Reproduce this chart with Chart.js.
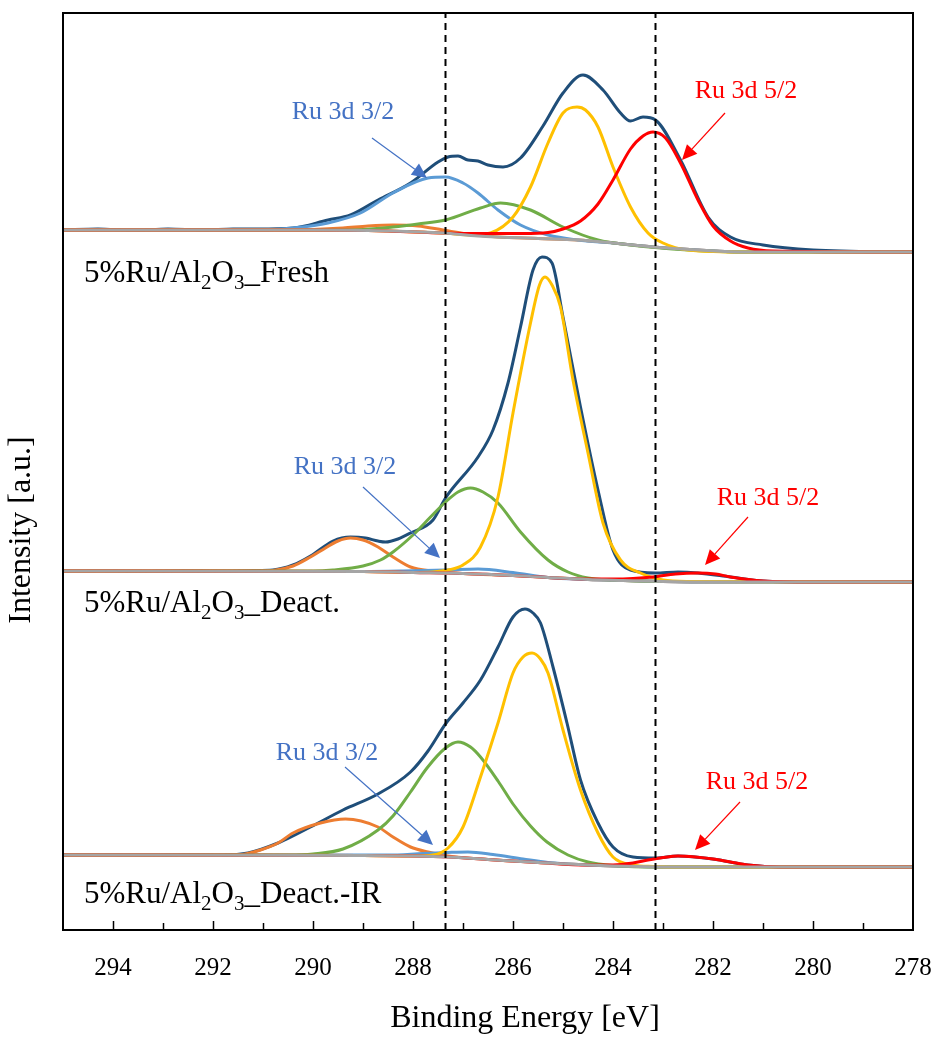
<!DOCTYPE html>
<html>
<head>
<meta charset="utf-8">
<script src="https://cdn.jsdelivr.net/npm/chart.js@4.4.1/dist/chart.umd.min.js"></script>
<style>
  html, body { margin: 0; padding: 0; background: #fff; }
  #wrap { width: 941px; height: 1039px; }
</style>
</head>
<body>
<div id="wrap"><canvas id="xpsChart" width="941" height="1039"></canvas></div>
<script>
// Binding energy axis
const energyMin = 278;
const energyMax = 295;
const tickLabels = [294, 292, 290, 288, 286, 284, 282, 280, 278];
const refLines = [287.35, 283.15];

// vertical offsets of the stacked spectra
const offsets = [70.0, 35.9, 7.5];

// 5%Ru/Al2O3_Fresh  [eV, intensity]
const freshEnv = [[295,0],[294.3,0.1],[293.6,-0.05],[292.9,0.1],[292.2,0],[291.6,0.1],[291.1,0.1],[290.4,0.2],[289.7,1.0],[289.25,1.5],[288.7,3.0],[288.05,4.7],[287.5,6.8],[287.3,7.3],[287.1,7.4],[286.9,7.0],[286.7,6.9],[286.5,6.5],[286.2,6.3],[285.85,7.2],[285.4,10.4],[285.0,13.7],[284.6,15.5],[284.2,14.0],[283.85,11.7],[283.65,10.9],[283.4,11.3],[283.15,11.0],[282.65,7.0],[282.1,1.3],[281.65,-0.7],[281.0,-1.5],[280,-2.0],[278,-2.2]];
const freshOrange = [[295,0],[290.5,0],[290,0.05],[289.4,0.2],[288.9,0.4],[288.4,0.5],[287.9,0.4],[287.4,0.0],[286.9,-0.4],[286.3,-0.7],[285.5,-0.85],[284.7,-1.0],[284,-1.3],[283.2,-1.7],[282.3,-2.0],[281.3,-2.2],[278,-2.2]];
const freshBlue = [[295,0],[291,0],[290.4,0.2],[289.7,0.7],[289.05,1.7],[288.4,3.7],[287.7,5.2],[287.35,5.3],[287.0,4.7],[286.7,3.7],[286.3,2.0],[285.85,0.5],[285.3,-0.5],[284.7,-1.0],[284,-1.3],[283.2,-1.7],[282.3,-2.0],[281.3,-2.2],[278,-2.2]];
const freshGreen = [[295,0],[290,0],[289,0.05],[288.4,0.3],[287.9,0.6],[287.35,1.0],[286.65,2.2],[286.25,2.7],[285.65,2.0],[285.0,0.3],[284.3,-1.0],[283.65,-1.5],[282.5,-2.0],[281.3,-2.2],[278,-2.2]];
const freshYellow = [[295,0],[290,0],[288.5,-0.1],[287.4,-0.3],[286.8,-0.5],[286.45,-0.3],[286.0,1.3],[285.65,4.3],[285.3,8.7],[285.0,11.7],[284.72,12.3],[284.55,12.0],[284.3,10.3],[284.0,6.3],[283.65,2.3],[283.3,-0.3],[283.0,-1.3],[282.5,-2.0],[281.3,-2.2],[278,-2.2]];
const freshRed = [[295,0],[290,0],[288.5,-0.1],[287.4,-0.3],[286.65,-0.35],[285.8,-0.35],[285.3,-0.25],[285.0,0.1],[284.65,0.9],[284.3,2.6],[284.0,5.0],[283.65,8.1],[283.4,9.4],[283.2,9.8],[282.95,9.2],[282.65,6.7],[282.3,3.0],[282.0,0.4],[281.65,-1.1],[281.3,-1.8],[280.8,-2.1],[278,-2.2]];
const freshBg = [[295,0],[290,0],[288.5,-0.1],[287.4,-0.3],[286.7,-0.6],[285.5,-0.85],[284.7,-1.0],[284,-1.3],[283.2,-1.7],[282.3,-2.0],[281.3,-2.2],[278,-2.2]];

// 5%Ru/Al2O3_Deact.
const deactEnv = [[295,0],[294.2,0.05],[293.4,-0.05],[292.6,0.05],[291.8,0],[291.2,0.05],[290.8,0.1],[290.4,0.6],[290.05,1.5],[289.6,3.0],[289.25,3.4],[288.95,3.3],[288.7,3.0],[288.55,2.9],[288.3,3.2],[288.05,3.8],[287.6,5.1],[287.35,7.3],[286.7,11.4],[286.4,14.1],[286.1,18.8],[285.85,24.4],[285.6,30.1],[285.42,31.4],[285.22,30.8],[285.0,25.4],[284.65,16.4],[284.3,8.1],[284.0,2.1],[283.65,0.1],[283.15,-0.2],[282.7,-0.1],[282.3,-0.2],[281.65,-0.6],[281.0,-1.0],[280,-1.1],[278,-1.1]];
const deactOrange = [[295,0],[291.2,0],[290.8,0.05],[290.4,0.5],[290.05,1.4],[289.85,2.0],[289.5,3.0],[289.25,3.3],[289.0,3.1],[288.7,2.4],[288.4,1.4],[288.05,0.4],[287.6,0.0],[287,-0.25],[286,-0.45],[285.3,-0.65],[284.5,-0.85],[283.8,-0.95],[283,-1.05],[282,-1.1],[278,-1.1]];
const deactBlue = [[295,0],[289,-0.05],[288.2,0],[287.35,0.1],[286.7,0.2],[286.0,-0.15],[285.3,-0.65],[284.5,-0.85],[283.8,-0.95],[283,-1.05],[282,-1.1],[278,-1.1]];
const deactGreen = [[295,0],[290,0],[289.6,0.1],[289.0,0.5],[288.65,1.1],[288.4,1.9],[288.0,3.6],[287.65,5.4],[287.35,6.9],[287.1,7.9],[286.85,8.3],[286.6,7.9],[286.3,6.8],[285.85,3.9],[285.3,1.1],[284.9,-0.1],[284.5,-0.7],[284,-0.9],[283,-1.05],[278,-1.1]];
const deactYellow = [[295,0],[289,-0.05],[288,-0.15],[287.6,-0.1],[287.3,0.1],[287.0,0.6],[286.65,2.4],[286.3,7.4],[286.0,15.8],[285.65,24.8],[285.47,28.6],[285.36,29.4],[285.22,28.6],[285.05,26.4],[284.8,19.1],[284.5,11.8],[284.2,4.8],[283.85,1.1],[283.45,-0.2],[283,-0.9],[282.5,-1.05],[278,-1.1]];
const deactRed = [[295,0],[289,-0.05],[288,-0.15],[287,-0.25],[286,-0.45],[285.3,-0.65],[284.5,-0.8],[284.0,-0.8],[283.6,-0.75],[283.2,-0.6],[282.75,-0.3],[282.3,-0.2],[281.95,-0.3],[281.65,-0.6],[281.0,-1.0],[280,-1.1],[278,-1.1]];
const deactBg = [[295,0],[289,-0.05],[288,-0.15],[287,-0.25],[286,-0.45],[285.3,-0.65],[284.5,-0.85],[283.8,-0.95],[283,-1.05],[282,-1.1],[278,-1.1]];

// 5%Ru/Al2O3_Deact.-IR
const irEnv = [[295,0],[294.2,0.05],[293.4,0],[292.6,0.05],[291.8,0],[291.3,0.2],[290.7,1.2],[290.05,2.8],[289.4,4.5],[288.7,6.1],[288.05,8.3],[287.7,10.4],[287.35,13.1],[287.0,15.2],[286.65,17.5],[286.3,20.8],[286.0,23.8],[285.76,24.6],[285.6,24.2],[285.45,23.2],[285.2,18.8],[284.92,13.2],[284.65,7.5],[284.3,3.2],[284.0,0.8],[283.6,-0.2],[283.15,-0.3],[282.7,-0.1],[282.0,-0.4],[281.3,-1.0],[280.65,-1.2],[278,-1.2]];
const irOrange = [[295,0],[291.6,0],[291.4,0.05],[291.05,0.5],[290.7,1.2],[290.4,2.2],[289.85,3.2],[289.35,3.6],[288.7,2.8],[288.4,1.8],[288.05,0.8],[287.7,0.3],[287.3,-0.1],[286.5,-0.45],[285.5,-0.75],[284.5,-1.0],[283.5,-1.15],[282.5,-1.2],[278,-1.2]];
const irBlue = [[295,0],[288.5,0],[287.8,0.15],[287.3,0.25],[286.9,0.3],[286.4,0.05],[285.8,-0.4],[285.3,-0.75],[284.5,-1.0],[283.5,-1.15],[282.5,-1.2],[278,-1.2]];
const irGreen = [[295,0],[290.5,0],[290,0.1],[289.4,0.6],[288.7,2.5],[288.4,3.9],[288.05,6.3],[287.72,8.7],[287.35,10.7],[287.1,11.3],[286.85,10.8],[286.65,9.8],[286.3,7.4],[286.0,5.1],[285.65,2.9],[285.32,1.3],[284.9,0.0],[284.5,-0.7],[284,-1.05],[283,-1.2],[278,-1.2]];
const irYellow = [[295,0],[289,-0.05],[288,-0.1],[287.6,0],[287.3,0.7],[287.0,2.8],[286.65,7.8],[286.3,13.2],[286.0,18.2],[285.8,19.8],[285.62,20.2],[285.45,19.6],[285.3,18.2],[285.0,12.5],[284.65,6.5],[284.3,2.2],[284.0,-0.2],[283.6,-1.0],[283.2,-1.15],[282.5,-1.2],[278,-1.2]];
const irRed = [[295,0],[289,-0.05],[288,-0.1],[287.3,-0.2],[286.5,-0.45],[285.5,-0.75],[284.5,-1.0],[284.0,-1.0],[283.6,-0.8],[283.3,-0.5],[283.0,-0.25],[282.7,-0.1],[282.35,-0.2],[282.0,-0.4],[281.65,-0.7],[281.3,-1.0],[280.65,-1.2],[278,-1.2]];
const irBg = [[295,0],[289,-0.05],[288,-0.1],[287.3,-0.2],[286.5,-0.45],[285.5,-0.75],[284.5,-1.0],[283.5,-1.15],[282.5,-1.2],[278,-1.2]];

const sampleNames = [
  ["5%Ru/Al", "2", "O", "3", "_Fresh"],
  ["5%Ru/Al", "2", "O", "3", "_Deact."],
  ["5%Ru/Al", "2", "O", "3", "_Deact.-IR"],
];

const spectra = [
  [freshEnv, freshOrange, freshBlue, freshGreen, freshYellow, freshRed, freshBg],
  [deactEnv, deactOrange, deactBlue, deactGreen, deactYellow, deactRed, deactBg],
  [irEnv, irOrange, irBlue, irGreen, irYellow, irRed, irBg],
];
const lineColors = ["#1F4E79", "#ED7D31", "#5B9BD5", "#70AD47", "#FFC000", "#FF0000", "#A5A5A5"];
const drawOrder = [6, 5, 4, 3, 2, 1, 0];

// peak callouts, positions in (eV, intensity)
const callouts = [
  { text: "Ru 3d 3/2", color: "#4472C4", at: [289.4, 81.8], from: [288.82, 79.2], to: [287.72, 75.2] },
  { text: "Ru 3d 5/2", color: "#FF0000", at: [281.34, 83.9], from: [281.76, 81.7], to: [282.62, 77.0] },
  { text: "Ru 3d 3/2", color: "#4472C4", at: [289.36, 46.3], from: [289.0, 44.3], to: [287.46, 37.2] },
  { text: "Ru 3d 5/2", color: "#FF0000", at: [280.9, 43.2], from: [281.3, 41.3], to: [282.16, 36.5] },
  { text: "Ru 3d 3/2", color: "#4472C4", at: [289.72, 17.7], from: [289.36, 16.3], to: [287.6, 8.5] },
  { text: "Ru 3d 5/2", color: "#FF0000", at: [281.12, 14.8], from: [281.46, 12.8], to: [282.36, 8.0] },
];
const nameAnchors = [[294.58, 64.8], [294.58, 31.8], [294.58, 2.7]];

const serif = "'Liberation Serif', 'Times New Roman', serif";

const datasets = [];
spectra.forEach((curves, p) => {
  curves.forEach((pts, k) => {
    datasets.push({
      data: pts.map(([e, v]) => ({ x: e, y: v + offsets[p] })),
      borderColor: lineColors[k],
      borderWidth: 3,
      pointRadius: 0,
      fill: false,
      cubicInterpolationMode: "monotone",
      order: drawOrder[k],
    });
  });
});
refLines.forEach((e) => {
  datasets.push({
    data: [{ x: e, y: 0 }, { x: e, y: 91.7 }],
    borderColor: "#000",
    borderWidth: 2,
    borderDash: [7, 5],
    pointRadius: 0,
    tension: 0,
    order: -1,
  });
});

const decorations = {
  id: "decorations",
  afterDatasetsDraw(chart) {
    const { ctx, chartArea, scales } = chart;
    const xs = scales.x, ys = scales.y;
    ctx.save();
    // frame
    ctx.strokeStyle = "#000";
    ctx.lineWidth = 2;
    ctx.strokeRect(chartArea.left, chartArea.top, chartArea.right - chartArea.left, chartArea.bottom - chartArea.top);
    // inward ticks
    ctx.lineWidth = 1.5;
    for (let v = energyMin + 1; v < energyMax; v++) {
      const px = Math.round(xs.getPixelForValue(v)) + 0.5;
      const len = v % 2 === 0 ? 9 : 7;
      ctx.beginPath();
      ctx.moveTo(px, chartArea.bottom);
      ctx.lineTo(px, chartArea.bottom - len);
      ctx.stroke();
    }
    // axis titles
    ctx.fillStyle = "#000";
    ctx.textAlign = "center";
    ctx.textBaseline = "middle";
    ctx.font = "32px " + serif;
    ctx.fillText("Binding Energy [eV]", 525, 1019);
    ctx.save();
    ctx.translate(22, 530);
    ctx.rotate(-Math.PI / 2);
    ctx.fillText("Intensity [a.u.]", 0, 0);
    ctx.restore();
    // callouts
    ctx.font = "26px " + serif;
    callouts.forEach((c) => {
      ctx.fillStyle = c.color;
      ctx.strokeStyle = c.color;
      ctx.fillText(c.text, xs.getPixelForValue(c.at[0]), ys.getPixelForValue(c.at[1]));
      const x1 = xs.getPixelForValue(c.from[0]), y1 = ys.getPixelForValue(c.from[1]);
      const x2 = xs.getPixelForValue(c.to[0]), y2 = ys.getPixelForValue(c.to[1]);
      const ang = Math.atan2(y2 - y1, x2 - x1);
      const head = 15, half = 7;
      const bx = x2 - head * Math.cos(ang), by = y2 - head * Math.sin(ang);
      ctx.lineWidth = 1.2;
      ctx.beginPath();
      ctx.moveTo(x1, y1);
      ctx.lineTo(bx, by);
      ctx.stroke();
      ctx.beginPath();
      ctx.moveTo(x2, y2);
      ctx.lineTo(bx + half * Math.sin(ang), by - half * Math.cos(ang));
      ctx.lineTo(bx - half * Math.sin(ang), by + half * Math.cos(ang));
      ctx.closePath();
      ctx.fill();
    });
    // sample names with subscripts
    ctx.fillStyle = "#000";
    ctx.textAlign = "left";
    ctx.textBaseline = "alphabetic";
    sampleNames.forEach((parts, i) => {
      let x = xs.getPixelForValue(nameAnchors[i][0]);
      const y = ys.getPixelForValue(nameAnchors[i][1]);
      parts.forEach((s, j) => {
        const sub = j === 1 || j === 3;
        ctx.font = (sub ? "21px " : "31px ") + serif;
        ctx.fillText(s, x, sub ? y + 7 : y);
        x += ctx.measureText(s).width;
      });
    });
    ctx.restore();
  },
};

new Chart(document.getElementById("xpsChart"), {
  type: "line",
  data: { datasets },
  options: {
    responsive: false,
    animation: false,
    events: [],
    layout: { padding: { top: 13, right: 28, left: 0, bottom: 0 } },
    plugins: { legend: { display: false }, tooltip: { enabled: false } },
    scales: {
      x: {
        type: "linear",
        reverse: true,
        min: energyMin,
        max: energyMax,
        afterBuildTicks: (s) => { s.ticks = tickLabels.map((v) => ({ value: v })); },
        afterFit: (s) => { s.height = 109; s.paddingLeft = 0; s.paddingRight = 0; },
        grid: { display: false, drawTicks: false },
        border: { display: false },
        ticks: { color: "#000", font: { family: serif, size: 25 }, padding: 23, maxRotation: 0 },
        title: { display: false },
      },
      y: {
        min: 0,
        max: 91.7,
        afterFit: (s) => { s.width = 63; s.paddingTop = 0; s.paddingBottom = 0; },
        grid: { display: false },
        border: { display: false },
        ticks: { display: false },
        title: { display: false },
      },
    },
  },
  plugins: [decorations],
});
</script>
</body>
</html>
